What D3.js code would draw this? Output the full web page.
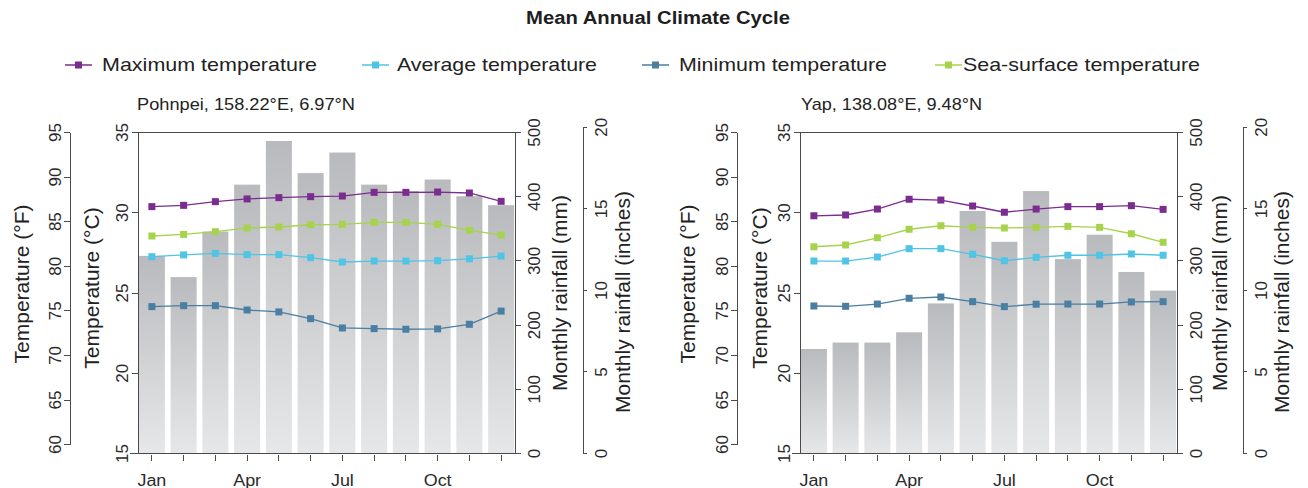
<!DOCTYPE html>
<html>
<head>
<meta charset="utf-8">
<script src="https://cdn.jsdelivr.net/npm/d3@7"></script>
<style>
  html, body { margin: 0; padding: 0; background: #fff; }
  svg { display: block; font-family: "Liberation Sans", Arial, Helvetica, sans-serif; }
  .axis path, .axis line { stroke: #4a4a4a; stroke-width: 1; shape-rendering: crispEdges; }
  .axis text { fill: #2a2a2a; }
</style>
</head>
<body>
<svg id="chart" width="1308" height="488"></svg>
<script>
// Months and labelled months on the x axis
const months = ["Jan","Feb","Mar","Apr","May","Jun","Jul","Aug","Sep","Oct","Nov","Dec"];
const monthLabels = ["Jan","Apr","Jul","Oct"];

// Tick values for each axis
const celsiusTicks = [15, 20, 25, 30, 35];
const fahrenheitTicks = [60, 65, 70, 75, 80, 85, 90, 95];
const rainMmTicks = [0, 100, 200, 300, 400, 500];
const rainInchTicks = [0, 5, 10, 15, 20];

// Pohnpei monthly means
const pohnpeiRain = [307, 274, 345, 418, 486, 436, 468, 418, 408, 426, 400, 386];
const pohnpeiMax = [30.35, 30.43, 30.66, 30.83, 30.91, 30.97, 31.01, 31.24, 31.24, 31.26, 31.20, 30.68];
const pohnpeiAvg = [27.23, 27.34, 27.44, 27.36, 27.36, 27.17, 26.90, 26.96, 26.96, 26.98, 27.10, 27.27];
const pohnpeiMin = [24.12, 24.18, 24.18, 23.91, 23.79, 23.37, 22.79, 22.75, 22.71, 22.73, 23.02, 23.84];
const pohnpeiSst = [28.52, 28.62, 28.79, 29.02, 29.08, 29.22, 29.25, 29.37, 29.37, 29.25, 28.88, 28.58];

// Yap monthly means
const yapRain = [162, 172, 172, 188, 233, 377, 329, 408, 302, 340, 282, 253];
const yapMax = [29.78, 29.83, 30.20, 30.81, 30.76, 30.39, 30.00, 30.20, 30.35, 30.35, 30.41, 30.18];
const yapAvg = [26.96, 26.96, 27.21, 27.73, 27.73, 27.38, 26.98, 27.19, 27.32, 27.32, 27.40, 27.32];
const yapMin = [24.16, 24.14, 24.28, 24.64, 24.72, 24.43, 24.12, 24.27, 24.28, 24.28, 24.41, 24.43];
const yapSst = [27.85, 27.96, 28.41, 28.94, 29.16, 29.06, 29.02, 29.06, 29.12, 29.06, 28.66, 28.13];

const seriesNames = ["Maximum temperature", "Average temperature", "Minimum temperature", "Sea-surface temperature"];
const seriesColors = ["#7b2d8f", "#4fc4e5", "#4a7ea2", "#a7d34c"];

const stations = [
  { title: "Pohnpei, 158.22°E, 6.97°N", rain: pohnpeiRain, temps: [pohnpeiMax, pohnpeiAvg, pohnpeiMin, pohnpeiSst] },
  { title: "Yap, 138.08°E, 9.48°N", rain: yapRain, temps: [yapMax, yapAvg, yapMin, yapSst] }
];

// Panel geometry (axis x positions and title positions)
const panels = [
  { fAxis: 70, cAxis: 138, mmAxis: 515, inAxis: 583, fTitle: 29, cTitle: 99, mmTitle: 567, inTitle: 630, titleX: 137, titleW: 218 },
  { fAxis: 737, cAxis: 800, mmAxis: 1177, inAxis: 1243, fTitle: 695, cTitle: 767, mmTitle: 1227, inTitle: 1289, titleX: 801, titleW: 181 }
];
const yTop = 132, yBottom = 453;

const svg = d3.select("#chart");
const defs = svg.append("defs");
const grad = defs.append("linearGradient").attr("id", "barFill")
  .attr("x1", 0).attr("y1", 0).attr("x2", 0).attr("y2", 1);
grad.append("stop").attr("offset", "0%").attr("stop-color", "#b8babd");
grad.append("stop").attr("offset", "100%").attr("stop-color", "#e6e7e8");

// Shared vertical scales
const yC = d3.scaleLinear().domain([15, 35]).range([yBottom, yTop]);
const f2c = f => (f - 32) * 5 / 9;
const yF = d3.scaleLinear().domain([60, 95]).range([yC(f2c(60)), yC(f2c(95))]);
const yMm = d3.scaleLinear().domain([0, 500]).range([yBottom, yTop]);
const yIn = d3.scaleLinear().domain([0, 20]).range([yMm(0), yMm(20 * 25.4)]);

// Title
function stretchedText(sel, width) {
  sel.attr("textLength", width).attr("lengthAdjust", "spacingAndGlyphs");
  return sel;
}
stretchedText(svg.append("text")
  .attr("x", 526).attr("y", 24)
  .attr("font-size", 18).attr("font-weight", "bold").attr("fill", "#1e1e1e")
  .text("Mean Annual Climate Cycle"), 264);

// Legend
const legendX = [65, 362, 642, 935];
const legendTextX = [102, 397, 679, 963];
const legendW = [215, 200, 208, 237];
seriesNames.forEach((name, i) => {
  const g = svg.append("g");
  g.append("line").attr("x1", legendX[i]).attr("x2", legendX[i] + 27)
    .attr("y1", 65).attr("y2", 65).attr("stroke", seriesColors[i]).attr("stroke-width", 1.5);
  g.append("rect").attr("x", legendX[i] + 13.5 - 3.5).attr("y", 65 - 3.5)
    .attr("width", 7).attr("height", 7).attr("fill", seriesColors[i]);
  stretchedText(g.append("text").attr("x", legendTextX[i]).attr("y", 71)
    .attr("font-size", 19).attr("fill", "#222").text(name), legendW[i]);
});

function rotateLeftLabels(axisG, offset) {
  axisG.selectAll(".tick text")
    .attr("transform", "rotate(-90)")
    .attr("x", 0).attr("y", offset).attr("dy", 0)
    .attr("text-anchor", "middle")
    .attr("font-size", 17);
}

stations.forEach((st, k) => {
  const p = panels[k];
  const g = svg.append("g");

  const x = d3.scaleBand().domain(months)
    .range([p.cAxis - 2, p.mmAxis + 2]).paddingInner(0.18).paddingOuter(0.09);
  const cx = m => x(m) + x.bandwidth() / 2;

  // Station title
  stretchedText(g.append("text").attr("x", p.titleX).attr("y", 110)
    .attr("font-size", 17).attr("fill", "#222").text(st.title), p.titleW);

  // Rainfall bars
  g.append("g").selectAll("rect").data(st.rain).join("rect")
    .attr("x", (d, i) => x(months[i]))
    .attr("width", x.bandwidth())
    .attr("y", d => yMm(d))
    .attr("height", d => yMm(0) - yMm(d))
    .attr("fill", "url(#barFill)");

  // Top border of the plot box
  g.append("line").attr("x1", p.cAxis).attr("x2", p.mmAxis)
    .attr("y1", yTop).attr("y2", yTop)
    .attr("stroke", "#4a4a4a").attr("shape-rendering", "crispEdges");

  // Month axis
  const xAxis = g.append("g").attr("class", "axis")
    .attr("transform", `translate(0,${yBottom})`)
    .call(d3.axisBottom(x).tickSize(8).tickSizeOuter(0)
      .tickFormat(m => monthLabels.includes(m) ? m : ""));
  xAxis.select(".domain").attr("d", `M${p.cAxis - 8},0.5H${p.mmAxis}`);
  xAxis.selectAll(".tick line").attr("y1", 2);
  xAxis.selectAll(".tick text").attr("font-size", 16).attr("y", 22).attr("dy", "0.71em")
    .each(function () { const w = this.getComputedTextLength(); d3.select(this).attr("textLength", w * 1.12).attr("lengthAdjust", "spacingAndGlyphs"); });

  // Celsius axis
  const cAx = g.append("g").attr("class", "axis").attr("transform", `translate(${p.cAxis},0)`)
    .call(d3.axisLeft(yC).tickValues(celsiusTicks).tickSize(6).tickSizeOuter(0));
  rotateLeftLabels(cAx, -10);

  // Fahrenheit axis
  const fAx = g.append("g").attr("class", "axis").attr("transform", `translate(${p.fAxis},0)`)
    .call(d3.axisLeft(yF).tickValues(fahrenheitTicks).tickSize(6).tickSizeOuter(0));
  rotateLeftLabels(fAx, -9);

  // Rainfall (mm) axis
  const mmAx = g.append("g").attr("class", "axis").attr("transform", `translate(${p.mmAxis},0)`)
    .call(d3.axisRight(yMm).tickValues(rainMmTicks).tickSize(6).tickSizeOuter(0));
  rotateLeftLabels(mmAx, 25);

  // Rainfall (inches) axis
  const inAx = g.append("g").attr("class", "axis").attr("transform", `translate(${p.inAxis},0)`)
    .call(d3.axisRight(yIn).tickValues(rainInchTicks).tickSize(4).tickSizeOuter(0));
  rotateLeftLabels(inAx, 24);

  // Axis titles
  const axisTitle = (xPos, yMid, label) => g.append("text")
    .attr("transform", `translate(${xPos},${yMid}) rotate(-90)`)
    .attr("text-anchor", "middle").attr("font-size", 21).attr("fill", "#222")
    .text(label);
  axisTitle(p.fTitle, 284, "Temperature (°F)");
  axisTitle(p.cTitle, 288, "Temperature (°C)");
  axisTitle(p.mmTitle, 293, "Monthly rainfall (mm)");
  axisTitle(p.inTitle, 302, "Monthly rainfall (inches)");

  // Temperature lines with square markers
  st.temps.forEach((vals, i) => {
    const line = d3.line().x((d, j) => cx(months[j])).y(d => yC(d));
    g.append("path").datum(vals).attr("d", line)
      .attr("fill", "none").attr("stroke", seriesColors[i]).attr("stroke-width", 1.3);
    g.append("g").selectAll("rect").data(vals).join("rect")
      .attr("x", (d, j) => cx(months[j]) - 3.5)
      .attr("y", d => yC(d) - 3.5)
      .attr("width", 7).attr("height", 7)
      .attr("fill", seriesColors[i]);
  });
});
</script>
</body>
</html>
